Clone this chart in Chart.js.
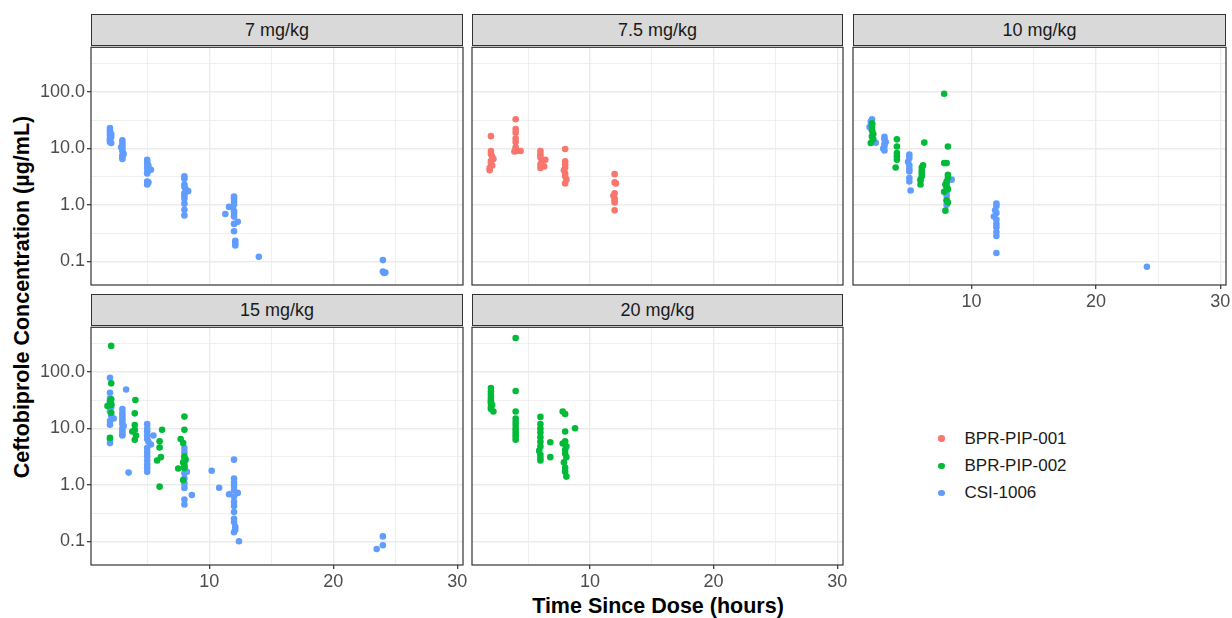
<!DOCTYPE html>
<html>
<head>
<meta charset="utf-8">
<script src="https://cdn.jsdelivr.net/npm/chart.js@4/dist/chart.umd.min.js"></script>
<style>
  body { margin: 0; background: #fff; font-family: 'Liberation Sans', Arial, sans-serif; }
  #page { position: relative; width: 1232px; height: 618px; overflow: hidden; }
  .panel { position: absolute; }
  .strip { position: absolute; box-sizing: border-box; background: #D9D9D9; border: 1px solid #333;
           color: #1A1A1A; font-size: 18px; text-align: center; display: flex; align-items: center; justify-content: center; }
  .ytitle { position: absolute; left: 22px; top: 297px; transform: translate(-50%, -50%) rotate(-90deg);
            white-space: nowrap; font-weight: bold; font-size: 21.5px; color: #000; }
  .xtitle { position: absolute; left: 658px; top: 606px; transform: translate(-50%, -50%);
            white-space: nowrap; font-weight: bold; font-size: 21.5px; color: #000; }
  .legend { position: absolute; left: 934px; top: 425px; font-size: 17px; color: #1A1A1A; }
  .legend div { height: 27.3px; display: flex; align-items: center; }
  .legend span.dot { display: inline-block; width: 6.5px; height: 6.5px; border-radius: 50%; margin: 0 20px 0 4px; }
</style>
</head>
<body>
<div id="page">
  <div class="ytitle">Ceftobiprole Concentration (µg/mL)</div>
  <div class="xtitle">Time Since Dose (hours)</div>
  <div class="legend" id="legend"></div>
</div>
<script>
// facets and studies
const doses = ['7 mg/kg', '7.5 mg/kg', '10 mg/kg', '15 mg/kg', '20 mg/kg'];
const studies = ['BPR-PIP-001', 'BPR-PIP-002', 'CSI-1006'];
const studyColors = ['#F8766D', '#00BA38', '#619CFF'];

// axis breaks
const timeTicks = [10, 20, 30];
const timeMinor = [5, 15, 25];
const concTicks = [0.1, 1, 10, 100];
const concMinor = [0.316, 3.16, 31.6, 316];

// [time (h), concentration (ug/mL)]
const csi_7 = [[2,23],[2,21],[2,19],[2.1,18],[2,17],[2.1,16],[2,15],[2,14],[2,13],[2.1,12.5],
  [3,14],[3,12.5],[3,11],[2.9,10.5],[3,10],[3,9],[3.1,8],[3,7.5],[3,7],[3,6.5],
  [5,6.3],[5,5.8],[5,5.3],[5.1,4.9],[5,4.5],[5.3,4.2],[5,3.8],[5,3.6],[5,2.6],[5.1,2.5],[5,2.3],
  [8,3.2],[8,2.9],[8,2.3],[8,2.1],[8.1,1.9],[8.3,1.75],[8,1.6],[8,1.45],[8,1.3],[8,1.05],[8,0.82],[8,0.65],
  [11.3,0.69],[11.6,0.92],[12,1.4],[12,1.3],[12,1.15],[12,1.0],[11.9,0.92],[12,0.78],[12,0.72],[12,0.62],
  [12.3,0.5],[12,0.46],[12,0.34],[12.1,0.23],[12.1,0.21],[12.1,0.19],
  [14,0.12],[24,0.105],[24,0.066],[24.1,0.062],[24.2,0.063]];

const pip001_7_5 = [[2,16.5],[2,9],[2,8],[2.1,7.2],[2.2,6.5],[2,6],[2,5.5],[2.1,5],[1.9,4.5],[1.9,4.1],
  [4,33],[4,22],[4,19],[4,15],[4,13],[4,10.5],[4,9.5],[4.1,9],[3.9,8.8],[4.4,9],
  [6,9],[6,7.8],[6,7],[6.4,6.3],[6.1,5.8],[6,5.2],[6.3,4.8],[6,4.5],
  [8,9.8],[8,5.9],[8,5.2],[8,4.6],[7.9,4.1],[8,3.6],[8,3.2],[8.1,2.8],[8,2.4],
  [12,3.5],[12,2.5],[12.1,2.4],[12,1.6],[11.9,1.45],[12,1.3],[12,1.2],[12,1.1],[12,0.8]];

const csi_10 = [[2,33],[1.9,30],[2,27],[1.8,24],[2,21],[2,17],[2.3,12.6],
  [3,16],[3,14.5],[3.1,13],[3,12],[3,11],[2.9,10],[3,9.2],
  [5,7.8],[5,6.8],[4.9,5.8],[5,5],[5,4.3],[5,3.9],[5,3.0],[5,2.6],[5.1,1.8],[5.9,2.7],
  [8,2.4],[8,2.0],[8,1.7],[8,1.45],[8,1.2],[8,1.0],[8.4,2.8],
  [12,1.05],[12,0.95],[11.9,0.8],[12,0.72],[11.8,0.62],[12,0.55],[12,0.46],[12,0.4],[12,0.33],[12,0.28],[12,0.14],
  [24.1,0.08]];

const pip002_10 = [[2,28],[2,26],[2,24],[2,21],[2.1,18],[2,16],[2.1,14.5],[1.9,12.5],
  [4,14.5],[4,10.8],[4,8.3],[4,7.3],[4,6.3],[3.9,4.6],
  [6.2,12.7],[6.1,5.0],[6,4.6],[6,4.0],[6,3.6],[6,3.2],[5.9,2.8],[5.9,2.3],
  [7.8,93],[8.1,10.8],[7.8,5.5],[8,5.5],[8.1,3.4],[8.1,3.0],[8,2.6],[7.9,2.3],[8,2.1],[8.1,1.9],
  [7.8,1.7],[8,1.2],[8.1,1.1],[7.9,0.79]];

const csi_15 = [[2,79],[2,43],[2,34],[2,28],[2.1,24],[2,20],[2.1,17],[2.3,15],[2,13.5],[2,11.6],[2,6.5],[2,5.5],
  [3.3,49],[3,22],[3,19],[3,17],[3,15],[3,13.5],[3,12],[3.1,11],[3,10],[3,9],[3,8],[3,7.5],[3.5,1.65],
  [5,12],[5,10],[5,8.8],[5,7.5],[5,6.5],[5.1,5.8],[5.3,5.2],[5,4.5],[5,3.8],[5,3.2],[5,2.7],[5,2.3],[5,2.0],[5,1.7],[5.5,7.5],
  [8,4.5],[8,3.8],[8,3.0],[8,2.5],[8,2.0],[8,1.6],[8,1.3],[8,1.05],[8,0.88],[8,0.55],[8,0.45],[8.2,1.7],[8.6,0.66],
  [10.2,1.78],[10.8,0.89],
  [12,2.8],[12,1.3],[12,1.1],[12,0.95],[12,0.8],[12.3,0.72],[11.6,0.68],[12,0.62],[12,0.5],[12,0.42],[12,0.33],
  [12,0.25],[12,0.22],[12.1,0.18],[12.1,0.16],[12,0.145],[12.4,0.1],
  [23.5,0.073],[24,0.122],[24,0.085]];

const pip002_15 = [[2.1,290],[2.1,63],[2.1,33],[2,30],[2.1,27],[2.1,26],[1.8,25],[2.1,19],[2,6.8],
  [4.05,32],[4,18.5],[4,11.5],[4,9.5],[3.8,8.8],[4.1,7.5],[4,6.3],
  [6.2,9.5],[6,5.9],[6,4.6],[6.1,3.1],[5.8,2.7],[6,0.93],
  [8,16.2],[8,9.5],[7.7,6.5],[7.9,5.5],[8,3.2],[8.1,2.8],[7.9,2.5],[8,2.2],[8,2.0],[7.9,1.22],[7.5,1.95]];

const pip002_20 = [[2,52],[2,45],[2,40],[2,35],[2,32],[2,30],[2,28],[2.1,26],[2,24],[2,22],[2.2,20],
  [4,400],[4,46],[4,20],[4,15],[4,13],[4,11.5],[4,10],[4,9],[4,8],[4,7.2],[4,6.3],
  [6,16],[6,12],[6,10],[6,8.5],[6,7],[6,5.8],[6,4.8],[5.9,4.0],[6,3.4],[6,3.0],[6,2.7],[6.8,5.7],[6.8,3.1],
  [7.8,20],[8,18],[8,8.8],[8,5.9],[7.8,5.4],[8.1,4.8],[8,4.2],[8,3.6],[8.1,3.1],[7.9,2.5],[8,2.0],[8,1.7],[8.1,1.4],
  [8.8,10.1]];

// which study arrays go in each facet (study index, points)
const facetData = [
  [[2, csi_7]],
  [[0, pip001_7_5]],
  [[1, pip002_10], [2, csi_10]],
  [[1, pip002_15], [2, csi_15]],
  [[1, pip002_20]]
];

// layout of the facet grid (page pixels)
const panelBoxes = [
  { left: 91,  top: 45,  w: 372, h: 240, stripTop: 14,  showX: false, showY: true },
  { left: 472, top: 45,  w: 371, h: 240, stripTop: 14,  showX: false, showY: false },
  { left: 853, top: 45,  w: 373, h: 240, stripTop: 14,  showX: true,  showY: false },
  { left: 91,  top: 325, w: 372, h: 240, stripTop: 294, showX: true,  showY: true },
  { left: 472, top: 325, w: 371, h: 240, stripTop: 294, showX: true,  showY: false }
];

const Y_AXIS_W = 50, X_AXIS_H = 32, PAD_R = 14;
const tickFont = { family: "'Liberation Sans', Arial, sans-serif", size: 18 };

const panelBorder = {
  id: 'panelBorder',
  afterDatasetsDraw(chart) {
    const a = chart.chartArea, ctx = chart.ctx;
    ctx.save();
    ctx.strokeStyle = '#333333';
    ctx.lineWidth = 1.2;
    ctx.strokeRect(a.left, a.top, a.right - a.left, a.bottom - a.top);
    ctx.restore();
  }
};

const page = document.getElementById('page');

function makePanel(i) {
  const box = panelBoxes[i];

  const strip = document.createElement('div');
  strip.className = 'strip';
  strip.style.left = box.left + 'px';
  strip.style.top = box.stripTop + 'px';
  strip.style.width = box.w + 'px';
  strip.style.height = (box.top - box.stripTop + 1) + 'px';
  strip.textContent = doses[i];
  page.appendChild(strip);

  const holder = document.createElement('div');
  holder.className = 'panel';
  holder.style.left = (box.left - Y_AXIS_W) + 'px';
  holder.style.top = (box.top - 1) + 'px';
  const canvas = document.createElement('canvas');
  canvas.width = box.w + Y_AXIS_W + PAD_R;
  canvas.height = box.h + 1 + X_AXIS_H;
  holder.appendChild(canvas);
  page.appendChild(holder);

  const datasets = facetData[i].map(([s, pts]) => ({
    label: studies[s],
    data: pts.map(p => ({ x: p[0], y: p[1] })),
    backgroundColor: studyColors[s],
    pointRadius: 3.3,
    pointBorderWidth: 0,
    pointHoverRadius: 3.3
  }));

  new Chart(canvas.getContext('2d'), {
    type: 'scatter',
    data: { datasets },
    options: {
      responsive: false,
      animation: false,
      events: [],
      layout: { padding: { top: 1, right: PAD_R, left: 0, bottom: 0 } },
      plugins: { legend: { display: false }, tooltip: { enabled: false } },
      scales: {
        x: {
          type: 'linear',
          min: 0.47,
          max: 30.46,
          afterBuildTicks: (s) => {
            s.ticks = timeMinor.concat(timeTicks).sort((a, b) => a - b).map(v => ({ value: v }));
          },
          afterFit: (s) => {
            s.height = X_AXIS_H;
            s.paddingLeft = 0; s.paddingRight = 0;
          },
          border: { display: false },
          grid: {
            color: '#EBEBEB',
            lineWidth: (c) => timeTicks.includes(c.tick.value) ? 1.4 : 0.8,
            drawTicks: true,
            tickLength: 4,
            tickWidth: 1.2,
            tickColor: (c) => box.showX && timeTicks.includes(c.tick.value) ? '#333333' : 'rgba(0,0,0,0)'
          },
          ticks: {
            display: box.showX,
            autoSkip: false,
            maxRotation: 0,
            padding: 2,
            color: '#4D4D4D',
            font: tickFont,
            callback: (v) => timeTicks.includes(v) ? String(v) : ''
          }
        },
        y: {
          type: 'logarithmic',
          min: 0.038,
          max: 620,
          afterBuildTicks: (s) => {
            s.ticks = concTicks.concat(concMinor).sort((a, b) => a - b).map(v => ({ value: v }));
          },
          afterFit: (s) => {
            s.width = Y_AXIS_W;
            s.paddingTop = 0; s.paddingBottom = 0;
          },
          border: { display: false },
          grid: {
            color: '#EBEBEB',
            lineWidth: (c) => concTicks.includes(c.tick.value) ? 1.4 : 0.8,
            drawTicks: true,
            tickLength: 4,
            tickWidth: 1.2,
            tickColor: (c) => box.showY && concTicks.includes(c.tick.value) ? '#333333' : 'rgba(0,0,0,0)'
          },
          ticks: {
            display: box.showY,
            autoSkip: false,
            padding: 2,
            color: '#4D4D4D',
            font: tickFont,
            callback: (v) => concTicks.includes(v) ? v.toFixed(1) : ''
          }
        }
      }
    },
    plugins: [panelBorder]
  });
}

for (let i = 0; i < doses.length; i++) makePanel(i);

// legend
const legend = document.getElementById('legend');
studies.forEach((name, k) => {
  const row = document.createElement('div');
  row.innerHTML = '<span class="dot" style="background:' + studyColors[k] + '"></span>' + name;
  legend.appendChild(row);
});
</script>
</body>
</html>
